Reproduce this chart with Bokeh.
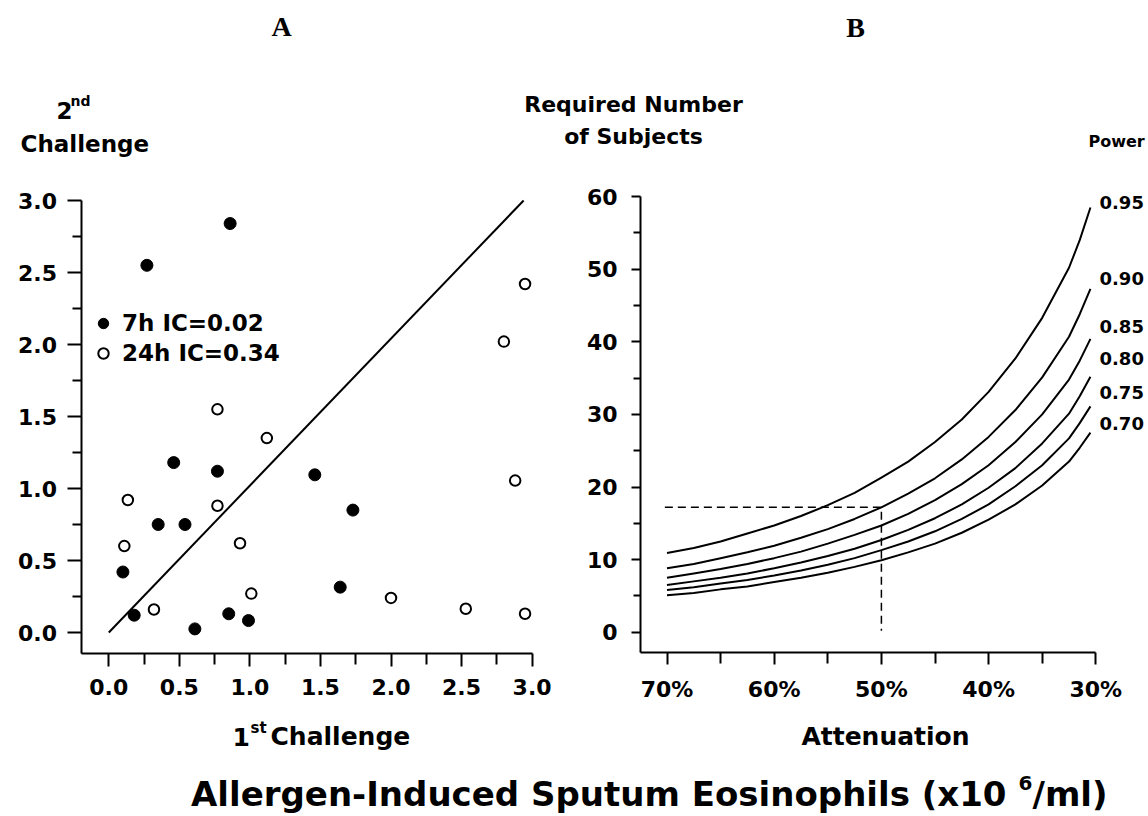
from bokeh.plotting import figure
from bokeh.models import (Range1d, LinearAxis, FixedTicker, NumeralTickFormatter,
                          PrintfTickFormatter, Legend, LegendItem)
from bokeh.core.properties import value
from bokeh.embed import file_html
from bokeh.resources import INLINE

# ---------------- data: panel A (sputum eosinophils, x10^6/ml) ----------------
first_7h = [0.86, 0.27, 0.46, 0.77, 1.46, 1.73, 0.35, 0.54, 0.10, 1.64, 0.18, 0.85, 0.99, 0.61]
second_7h = [2.84, 2.55, 1.18, 1.12, 1.095, 0.85, 0.75, 0.75, 0.42, 0.315, 0.12, 0.13, 0.083, 0.025]
first_24h = [2.95, 2.80, 0.77, 1.12, 2.88, 0.135, 0.77, 0.11, 0.93, 1.01, 2.00, 0.32, 2.53, 2.95]
second_24h = [2.42, 2.02, 1.55, 1.35, 1.055, 0.92, 0.88, 0.60, 0.62, 0.27, 0.24, 0.16, 0.165, 0.13]
identity_x = [0.0, 2.94]
identity_y = [0.0, 3.0]
legend_labels = ["7h IC=0.02", "24h IC=0.34"]
a_ticks = [0.0, 0.5, 1.0, 1.5, 2.0, 2.5, 3.0]
a_minor = [0.25, 0.75, 1.25, 1.75, 2.25, 2.75]

# ---------------- data: panel B (required number of subjects) ----------------
attenuation = [70, 67.5, 65, 62.5, 60, 57.5, 55, 52.5, 50, 47.5, 45, 42.5, 40, 37.5, 35, 32.5, 31.5, 30.5]
power_labels = ["0.95", "0.90", "0.85", "0.80", "0.75", "0.70"]
n_095 = [10.9, 11.6, 12.5, 13.6, 14.7, 16.0, 17.5, 19.2, 21.3, 23.5, 26.2, 29.3, 33.1, 37.7, 43.3, 50.2, 54.0, 58.5]
n_090 = [8.8, 9.4, 10.2, 11.0, 11.9, 13.0, 14.2, 15.6, 17.2, 19.1, 21.2, 23.8, 26.9, 30.6, 35.1, 40.7, 43.8, 47.3]
n_085 = [7.5, 8.1, 8.7, 9.4, 10.2, 11.1, 12.2, 13.4, 14.7, 16.3, 18.2, 20.4, 23.0, 26.2, 30.0, 34.8, 37.4, 40.4]
n_080 = [6.5, 7.0, 7.5, 8.1, 8.8, 9.6, 10.5, 11.5, 12.7, 14.1, 15.7, 17.6, 19.9, 22.6, 26.0, 30.1, 32.5, 35.2]
n_075 = [5.8, 6.2, 6.7, 7.2, 7.8, 8.5, 9.3, 10.2, 11.3, 12.5, 13.9, 15.6, 17.6, 20.1, 23.0, 26.7, 28.8, 31.1]
n_070 = [5.1, 5.4, 5.9, 6.3, 6.9, 7.5, 8.2, 9.0, 9.9, 11.0, 12.2, 13.7, 15.5, 17.6, 20.2, 23.5, 25.4, 27.5]
curves = [n_095, n_090, n_085, n_080, n_075, n_070]
example_x = [70.2, 50.0, 50.0]
example_y = [17.2, 17.2, 0.2]
b_xticks = [30, 40, 50, 60, 70]
b_xminor = [35, 45, 55, 65]
b_yticks = [0, 10, 20, 30, 40, 50, 60]
b_yminor = [5, 15, 25, 35, 45, 55]

# ---------------- geometry (pixels) ----------------
W, H = 1148, 816
XA0, XA_S, YA0, YA_S = 108.3, 141.1, 632.0, 144.0
XB0, XB_S, YB0, YB_S = 666.5, 10.72, 631.7, 7.26

FONT = value("DejaVu Sans")

p = figure(width=W, height=H, x_range=Range1d(0, W), y_range=Range1d(H, 0),
           x_axis_type=None, y_axis_type=None, toolbar_location=None,
           output_backend="svg", min_border=0, outline_line_color=None,
           background_fill_color="white", border_fill_color="white")
p.grid.visible = False

p.extra_x_ranges = {
    "A": Range1d(-XA0 / XA_S, (W - XA0) / XA_S),
    "B": Range1d(70 + XB0 / XB_S, 70 - (W - XB0) / XB_S),
}
p.extra_y_ranges = {
    "A": Range1d((YA0 - H) / YA_S, YA0 / YA_S),
    "B": Range1d((YB0 - H) / YB_S, YB0 / YB_S),
}


def style_axis(ax, tick_out, minor_out, standoff):
    ax.axis_line_width = 2
    ax.axis_line_color = "black"
    ax.major_tick_line_width = 2
    ax.minor_tick_line_width = 2
    ax.major_tick_line_color = "black"
    ax.minor_tick_line_color = "black"
    ax.major_tick_in = 0
    ax.minor_tick_in = 0
    ax.major_tick_out = tick_out
    ax.minor_tick_out = minor_out
    ax.major_label_standoff = standoff
    ax.major_label_text_font = "DejaVu Sans"
    ax.major_label_text_font_style = "bold"
    ax.major_label_text_font_size = "22px"
    ax.major_label_text_color = "black"


# panel A axes
xa_loc = (80.5 - XA0) / XA_S
ya_loc = (YA0 - 653.0) / YA_S
axA_x = LinearAxis(x_range_name="A", y_range_name="A", fixed_location=ya_loc,
                   bounds=(xa_loc, 3.0),
                   ticker=FixedTicker(ticks=a_ticks, minor_ticks=a_minor),
                   formatter=NumeralTickFormatter(format="0.0"))
style_axis(axA_x, 13, 11, 12)
p.add_layout(axA_x, "below")
axA_y = LinearAxis(x_range_name="A", y_range_name="A", fixed_location=xa_loc,
                   bounds=(ya_loc, 3.0),
                   ticker=FixedTicker(ticks=a_ticks, minor_ticks=a_minor),
                   formatter=NumeralTickFormatter(format="0.0"))
style_axis(axA_y, 14, 9, 10)
p.add_layout(axA_y, "left")

# panel B axes
xb_loc = 70 - (640.0 - XB0) / XB_S
yb_loc = (YB0 - 652.0) / YB_S
axB_x = LinearAxis(x_range_name="B", y_range_name="B", fixed_location=yb_loc,
                   bounds=(30, xb_loc),
                   ticker=FixedTicker(ticks=b_xticks, minor_ticks=b_xminor),
                   formatter=PrintfTickFormatter(format="%d%%"))
style_axis(axB_x, 12, 11, 12)
p.add_layout(axB_x, "below")
axB_y = LinearAxis(x_range_name="B", y_range_name="B", fixed_location=xb_loc,
                   bounds=(yb_loc, 60),
                   ticker=FixedTicker(ticks=b_yticks, minor_ticks=b_yminor),
                   formatter=NumeralTickFormatter(format="0"))
style_axis(axB_y, 9, 7, 14)
p.add_layout(axB_y, "left")

# panel A marks
p.line(identity_x, identity_y, x_range_name="A", y_range_name="A",
       line_color="black", line_width=2)
r7 = p.scatter(first_7h, second_7h, marker="circle", size=12, fill_color="black",
               line_color="black", line_width=1, x_range_name="A", y_range_name="A")
r24 = p.scatter(first_24h, second_24h, marker="circle", size=10.5, fill_color="white",
                line_color="black", line_width=2, x_range_name="A", y_range_name="A")

legend = Legend(items=[LegendItem(label=legend_labels[0], renderers=[r7]),
                       LegendItem(label=legend_labels[1], renderers=[r24])],
                location=(90, H - 366), orientation="vertical",
                glyph_width=26, glyph_height=26, label_height=26,
                label_standoff=6, spacing=4, padding=0, margin=0,
                border_line_color=None, background_fill_alpha=0,
                label_text_font="DejaVu Sans", label_text_font_style="bold",
                label_text_font_size="23px", label_text_color="black")
p.add_layout(legend)

# panel B marks
for ser in curves:
    p.line(attenuation, ser, x_range_name="B", y_range_name="B",
           line_color="black", line_width=2, line_join="round")
p.line(example_x, example_y, x_range_name="B", y_range_name="B",
       line_color="black", line_width=1.5, line_dash="8 5")

# ---------------- texts (pixel positions, vertically centred) ----------------
def txt(x, y, s, size, align="left", font=FONT, style="bold"):
    p.text(x=[x], y=[y], text=[s], text_font=font, text_font_style=style,
           text_font_size=size, text_align=align, text_baseline="middle",
           text_color="black")

SERIF = value("Liberation Serif")
txt(281, 26, "A", "28px", "center", SERIF)
txt(855, 27, "B", "28px", "center", SERIF)

txt(56, 110, "2", "23px")
txt(70, 100, "nd", "14px")
txt(20, 143, "Challenge", "23px")
txt(633, 104, "Required Number", "22px", "center")
txt(633, 136, "of Subjects", "22px", "center")

txt(232, 736, "1", "25px")
txt(250, 727, "st", "15px")
txt(270, 736, "Challenge", "25px")
txt(885, 736, "Attenuation", "25px", "center")

txt(1088, 141, "Power", "16px", "left")
label_py = [201.7, 278.3, 325.7, 358.3, 391.7, 423.3]
for lab, py in zip(power_labels, label_py):
    txt(1099, py, lab, "18px", "left")

txt(1006, 793, "Allergen-Induced Sputum Eosinophils (x10", "34px", "right")
txt(1018, 782, "6", "20px")
txt(1032, 793, "/ml)", "34px")

open("out.html", "w").write(file_html(p, INLINE))
